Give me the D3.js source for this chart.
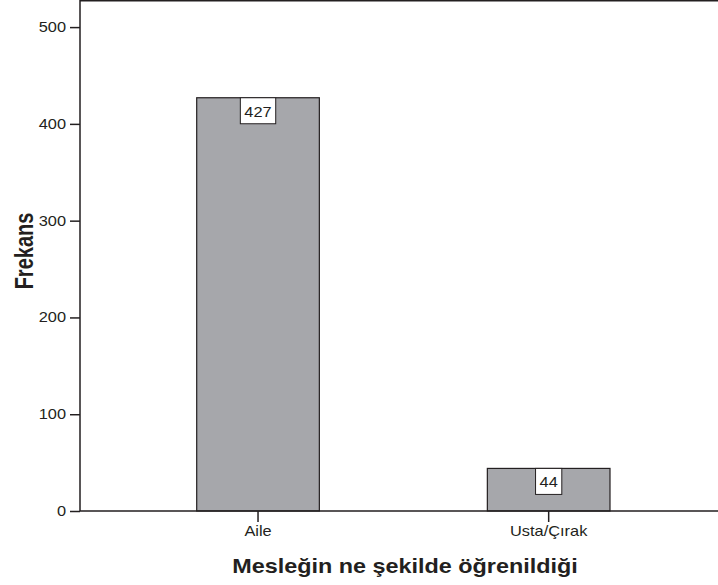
<!DOCTYPE html>
<html>
<head>
<meta charset="utf-8">
<script src="https://cdn.jsdelivr.net/npm/d3@7"></script>
<style>
  body { margin: 0; background: #fff; }
  svg { display: block; font-family: "Liberation Sans", Arial, sans-serif; }
</style>
</head>
<body>
<svg id="chart" width="718" height="585"></svg>
<script>
// data
var categories = ['Aile', 'Usta/Çırak'];
var counts = [427, 44];
var yTicks = [0, 100, 200, 300, 400, 500];
var xTitle = 'Mesleğin ne şekilde öğrenildiği';
var yTitle = 'Frekans';

var svg = d3.select('#chart'),
    svgW = +svg.attr('width');

// the picture is a little wider than tall, text is stretched sideways
var stretch = 1.17;
var ink = '#231f20';

var plotLeft = 80, plotBottom = 511, plotTop = 0;

var x = d3.scaleBand()
    .domain(categories)
    .range([196.7, 610])
    .paddingInner(0.578)
    .paddingOuter(0);

var y = d3.scaleLinear()
    .domain([0, 528])
    .range([plotBottom, plotTop]);

// bars
svg.selectAll('.bar')
  .data(counts)
  .enter().append('rect')
    .attr('class', 'bar')
    .attr('x', function(d, i) { return x(categories[i]); })
    .attr('y', function(d) { return y(d); })
    .attr('width', x.bandwidth())
    .attr('height', function(d) { return y(0) - y(d); })
    .style('fill', '#a6a7ab')
    .style('stroke', ink)
    .style('stroke-width', 1.2);

// value boxes
var lab = svg.selectAll('.lab')
  .data(counts)
  .enter().append('g')
    .attr('class', 'lab')
    .attr('transform', function(d, i) {
      return 'translate(' + (x(categories[i]) + x.bandwidth() / 2) + ',' + y(d) + ')';
    });

lab.append('rect')
    .attr('x', function(d) { return -(String(d).length * 7.8 * stretch + 8) / 2; })
    .attr('y', 0)
    .attr('width', function(d) { return String(d).length * 7.8 * stretch + 8; })
    .attr('height', 26)
    .style('fill', '#fff')
    .style('stroke', ink)
    .style('stroke-width', 1);

lab.append('text')
    .attr('transform', 'translate(0,19) scale(' + stretch + ',1)')
    .attr('text-anchor', 'middle')
    .style('font-size', '14px')
    .style('fill', ink)
    .text(function(d) { return d; });

// axes
var yAxis = svg.append('g')
    .attr('transform', 'translate(' + plotLeft + ',0)')
    .call(d3.axisLeft(y).tickValues(yTicks).tickSize(10).tickSizeOuter(0).tickPadding(4));

var xAxis = svg.append('g')
    .attr('transform', 'translate(0,' + plotBottom + ')')
    .call(d3.axisBottom(x).tickSize(11).tickSizeOuter(0).tickPadding(4));

yAxis.select('.domain').remove();
xAxis.select('.domain').remove();

[yAxis, xAxis].forEach(function(a) {
  a.selectAll('line').style('stroke', ink).style('stroke-width', 1.5);
  a.selectAll('text')
    .style('font-size', '14px')
    .style('fill', ink)
    .style('font-family', '"Liberation Sans", Arial, sans-serif');
});

yAxis.selectAll('text')
    .attr('transform', function() {
      var tx = +d3.select(this).attr('x');
      return 'translate(' + tx + ',0) scale(' + stretch + ',1)';
    })
    .attr('x', 0);

xAxis.selectAll('text')
    .attr('transform', 'translate(0,15) scale(' + stretch + ',1)')
    .attr('y', 0)
    .attr('dy', '0.71em');

// frame: left, bottom, top lines
svg.append('path')
    .attr('d', 'M' + svgW + ',' + (plotTop + 0.75) + 'H' + plotLeft + 'V' + plotBottom + 'H' + svgW)
    .style('fill', 'none')
    .style('stroke', ink)
    .style('stroke-width', 1.5);

// axis titles
svg.append('text')
    .attr('transform', 'translate(405,573) scale(' + stretch + ',1)')
    .attr('text-anchor', 'middle')
    .style('font-size', '20px')
    .style('font-weight', 'bold')
    .style('fill', ink)
    .text(xTitle);

svg.append('text')
    .attr('transform', 'translate(33,251) scale(1.3,1) rotate(-90)')
    .attr('text-anchor', 'middle')
    .style('font-size', '20px')
    .style('font-weight', 'bold')
    .style('fill', ink)
    .text(yTitle);
</script>
</body>
</html>
